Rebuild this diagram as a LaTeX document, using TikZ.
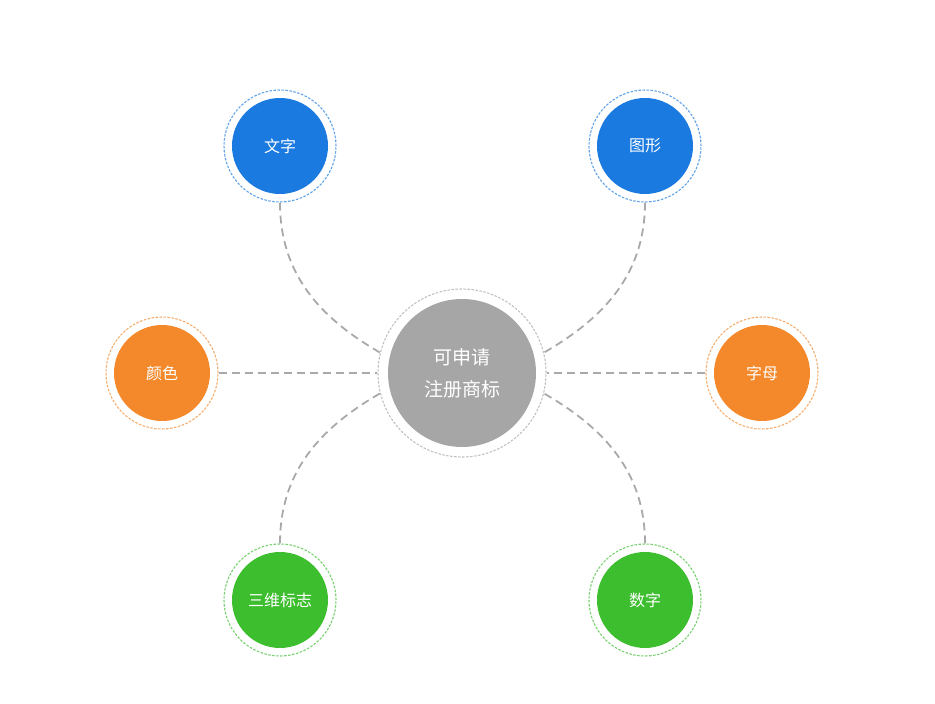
\documentclass[tikz,border=0pt]{standalone}
\usepackage{fontspec}
\setmainfont{Noto Sans CJK SC}
\usetikzlibrary{positioning}
\definecolor{tmblue}{HTML}{1A7AE0}
\definecolor{tmorange}{HTML}{F4892B}
\definecolor{tmgreen}{HTML}{3DBE2F}
\definecolor{tmgrey}{HTML}{A6A6A6}
\definecolor{tmline}{HTML}{A9A9A9}

\begin{document}
\begin{tikzpicture}[x=1pt, y=1pt,
    ring/.style={circle, draw=#1!70, line width=1.1pt, dash pattern=on 2.5pt off 1.5pt, inner sep=0pt},
    sat/.style={ring=#1, minimum size=112pt, text=white, font=\fontsize{16}{18}\selectfont,
      path picture={\fill[#1] (path picture bounding box.center) circle (48pt);}},
    link/.style={draw=tmline, line width=1.8pt, dash pattern=on 8pt off 5pt}]
  \useasboundingbox (0,0) rectangle (935,704);
  % centre
  \node[ring=tmgrey, minimum size=168pt, text=white, align=center, font=\fontsize{19}{32}\selectfont,
    path picture={\fill[tmgrey] (path picture bounding box.center) circle (74pt);}] (mark) at (462,331) {可申请\\注册商标};
  % six kinds
  \foreach \n/\x/\y/\c/\t in {wenzi/280/558/tmblue/文字, tuxing/645/558/tmblue/图形,
      yanse/162/331/tmorange/颜色, zimu/762/331/tmorange/字母,
      sanwei/280/104/tmgreen/三维标志, shuzi/645/104/tmgreen/数字}
    \node[sat=\c] (\n) at (\x,\y) {\t};
  % links
  \draw[link] (wenzi.south) to[out=-90, in=150] (mark.166);
  \draw[link] (tuxing.south) to[out=-90, in=30] (mark.14);
  \draw[link] (yanse) -- (mark);
  \draw[link] (zimu) -- (mark);
  \draw[link] (sanwei.north) to[out=90, in=210] (mark.194);
  \draw[link] (shuzi.north) to[out=90, in=-30] (mark.-14);
\end{tikzpicture}
\end{document}
